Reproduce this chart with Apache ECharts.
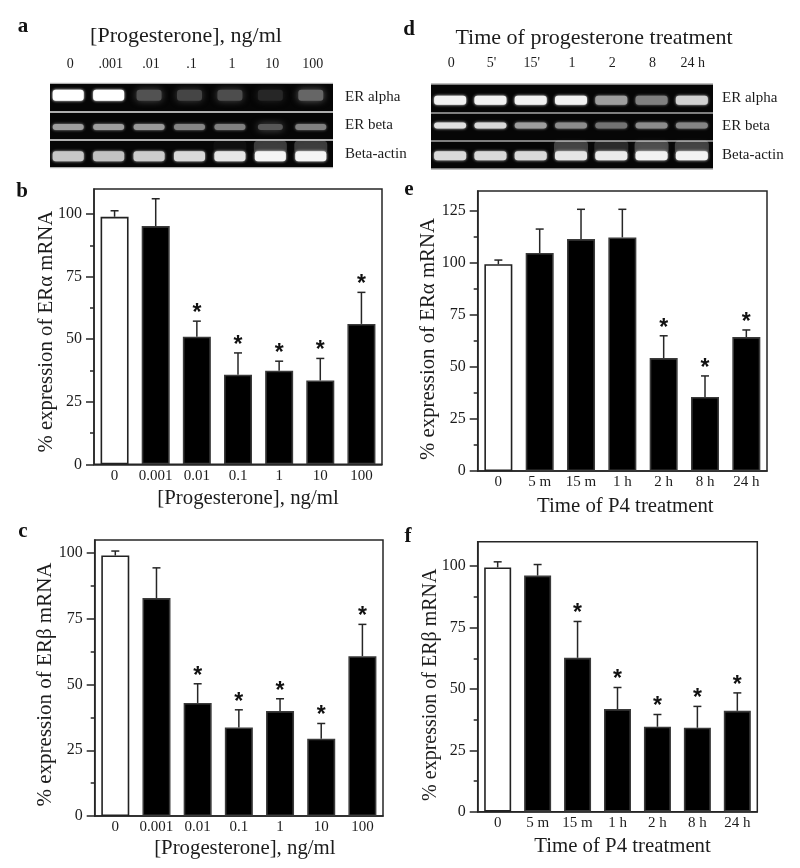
<!DOCTYPE html>
<html><head><meta charset="utf-8">
<style>html,body{margin:0;padding:0;background:#fff}#c{width:800px;height:868px}</style>
<script src="https://cdn.jsdelivr.net/npm/echarts@6/dist/echarts.min.js"></script>
</head><body><div id="c"></div>
<script>
const doseLanes = ['0','.001','.01','.1','1','10','100'];
const timeLanes = ['0',"5'","15'",'1','2','8','24 h'];
const gelRows = ['ER alpha','ER beta','Beta-actin'];
const gelA = [[1,1,.32,.27,.3,.15,.4],[.62,.62,.6,.52,.5,.34,.5],[.78,.76,.8,.85,.9,.96,.96]];
const smearA = [0,0,0,0,.04,.2,.2];
const gelD = [[.95,.95,.95,.95,.62,.5,.82],[.88,.85,.62,.55,.45,.55,.52],[.85,.85,.85,.9,.92,.95,.95]];
const smearD = [0,0,0,.22,.14,.25,.22];

const doseLabels = ['0','0.001','0.01','0.1','1','10','100'];
const timeLabels = ['0','5 m','15 m','1 h','2 h','8 h','24 h'];
const majorTicks = [0,25,50,75,100];
const majorTicksE = [0,25,50,75,100,125];
const minorTicks = [12.5,37.5,62.5,87.5];
const minorTicksE = [12.5,37.5,62.5,87.5,112.5];

const valuesB = [98.9,95.2,51,35.8,37.4,33.5,56.1];
const upperB = [101.3,106.1,57.2,44.5,41.2,42.3,68.7];
const starsB = [0,0,1,1,1,1,1];
const valuesC = [99.1,82.9,43,33.7,39.9,29.4,60.8];
const upperC = [100.8,94.4,50.3,40.4,44.6,35.2,72.9];
const starsC = [0,0,1,1,1,1,1];
const valuesE = [99.4,104.8,111.5,112.3,54.3,35.6,64.4];
const upperE = [101.4,116.3,125.8,125.8,65,45.7,67.8];
const starsE = [0,0,0,0,1,1,1];
const valuesF = [99.5,96.2,62.7,41.8,34.6,34.2,41.1];
const upperF = [101.8,100.7,77.5,50.6,39.6,42.9,48.4];
const starsF = [0,0,1,1,1,1,1];

const FONT = '"Liberation Serif","Times New Roman",serif';
const INK = '#1c1c1c';
const opt = {animation:false,backgroundColor:'#fff',title:[],grid:[],xAxis:[],yAxis:[],series:[]};

function addText(text,x,y,size,bold,align){
  opt.title.push({text,left:x,top:y,textAlign:align||'center',padding:0,
    textStyle:{fontFamily:FONT,fontSize:size,fontWeight:bold?'bold':'normal',color:bold?'#111':INK}});
}

function addGel(box,lanes,values,smear,cfg){
  const g=opt.grid.length;
  opt.grid.push({left:box.l,top:box.t,width:box.w,height:box.h,show:true,backgroundColor:'#060606',borderWidth:0});
  opt.xAxis.push({type:'category',gridIndex:g,position:'top',data:lanes,axisLine:{show:false},axisTick:{show:false},
    axisLabel:{fontFamily:FONT,fontSize:14,color:INK,margin:cfg.topMargin,interval:0}});
  opt.yAxis.push({type:'category',gridIndex:g,position:'right',inverse:true,data:gelRows,axisLine:{show:false},axisTick:{show:false},
    splitLine:{show:true,interval:0,lineStyle:{color:cfg.divider,width:1.5}},
    axisLabel:{fontFamily:FONT,fontSize:15,color:INK,margin:cfg.rowMargin,interval:0}});
  const data=[];
  values.forEach((row,r)=>row.forEach((v,i)=>data.push([i,r,v,r===2?smear[i]:0])));
  opt.series.push({type:'custom',xAxisIndex:g,yAxisIndex:g,clip:true,silent:true,encode:{x:0,y:1},data,
    renderItem(p,api){
      const r=api.value(1),v=api.value(2),sm=api.value(3);
      const c=api.coord([api.value(0),r]);
      const cx=c[0]+cfg.dx,cy=c[1]+cfg.dy[r];
      const h=cfg.thick[r],w=(v<.45?27:cfg.width);
      const gr=Math.round(255*Math.min(1,v));
      const col=`rgb(${gr},${gr},${gr})`;
      const kids=[];
      if(sm>0){
        kids.push({type:'rect',shape:{x:cx-w/2,y:cy-h/2-10,width:w,height:13,r:4},
          style:{fill:`rgba(255,255,255,${sm})`,shadowBlur:6,shadowColor:`rgba(255,255,255,${sm})`}});
      }
      kids.push({type:'rect',shape:{x:cx-w/2+1,y:cy-h/2+.5,width:w-2,height:h-1,r:3},
        style:{fill:col,shadowBlur:v<.45?7:3,shadowColor:col}});
      return {type:'group',children:kids};
    }});
}

function addBars(box,cfg){
  const g=opt.grid.length,axisBase=opt.yAxis.length;
  opt.grid.push({left:box.l,top:box.t,width:box.w,height:box.h,show:true,backgroundColor:'transparent',borderColor:'#262626',borderWidth:1.5});
  opt.xAxis.push({type:'category',gridIndex:g,data:cfg.labels,
    name:cfg.xName,nameLocation:'middle',nameGap:cfg.xGap,nameMoveOverlap:false,
    nameTextStyle:{fontFamily:FONT,fontSize:20.8,color:INK,padding:[0,0,0,cfg.xShift]},
    axisLine:{show:true,lineStyle:{color:'#262626',width:1.5}},axisTick:{show:false},
    axisLabel:{fontFamily:FONT,fontSize:15,color:INK,margin:4,interval:0}});
  opt.yAxis.push({type:'value',gridIndex:g,min:0,max:cfg.max,interval:25,
    name:cfg.yName,nameLocation:'middle',nameGap:cfg.yGap,nameRotate:90,nameMoveOverlap:false,
    nameTextStyle:{fontFamily:FONT,fontSize:cfg.yFont,color:INK,padding:[0,cfg.yShift,0,0]},
    splitLine:{show:false},axisLine:{show:true,lineStyle:{color:'#262626',width:1.5}},
    axisTick:{show:true,length:8,customValues:cfg.major,lineStyle:{color:'#262626',width:1.5}},
    axisLabel:{fontFamily:FONT,fontSize:16,color:INK,margin:12,customValues:cfg.major}});
  opt.yAxis.push({type:'value',gridIndex:g,min:0,max:cfg.max,interval:25,position:'left',
    splitLine:{show:false},axisLine:{show:false},axisLabel:{show:false},
    axisTick:{show:true,length:4,customValues:cfg.minor,lineStyle:{color:'#262626',width:1.5}}});
  opt.series.push({type:'bar',xAxisIndex:g,yAxisIndex:axisBase,barWidth:cfg.barWidth,silent:true,
    data:cfg.values.map((v,i)=>({value:v,itemStyle:i===0?{color:'#fff',borderColor:'#222',borderWidth:1.6}:{color:'#000',borderColor:'#3a3a3a',borderWidth:1.6}}))});
  opt.series.push({type:'custom',xAxisIndex:g,yAxisIndex:axisBase,clip:false,silent:true,z:3,encode:{x:0,y:[1,2]},
    data:cfg.values.map((v,i)=>[i,v,cfg.upper[i],cfg.stars[i]]),
    renderItem(p,api){
      const i=api.value(0);
      const a=api.coord([i,api.value(1)]),b=api.coord([i,api.value(2)]);
      const s={stroke:'#262626',lineWidth:1.5,fill:null};
      const kids=[
        {type:'line',shape:{x1:a[0],y1:a[1],x2:b[0],y2:b[1]},style:s},
        {type:'line',shape:{x1:b[0]-4,y1:b[1],x2:b[0]+4,y2:b[1]},style:s}
      ];
      if(api.value(3)){
        kids.push({type:'text',style:{text:'*',x:b[0],y:b[1]+4,align:'center',verticalAlign:'bottom',
          font:'bold 23px "Liberation Sans",Arial,sans-serif',fill:'#111'}});
      }
      return {type:'group',children:kids};
    }});
}

addGel({l:50,t:83,w:283,h:85},doseLanes,gelA,smearA,
  {topMargin:12,rowMargin:12,divider:'#e8e8e8',dx:-2,dy:[-2,1.5,2.5],thick:[12,7,11],width:33});
addGel({l:431,t:84,w:282,h:85},timeLanes,gelD,smearD,
  {topMargin:14,rowMargin:9,divider:'#a8a8a8',dx:-1,dy:[2,-1,1],thick:[10,7,10],width:34});

addBars({l:94,t:189,w:288,h:275.3},{labels:doseLabels,values:valuesB,upper:upperB,stars:starsB,max:110,major:majorTicks,minor:minorTicks,
  barWidth:28,xName:'[Progesterone], ng/ml',xGap:24,xShift:20,yName:'% expression of ER\u03B1 mRNA',yGap:37,yFont:20.8,yShift:10});
addBars({l:94.7,t:540,w:288.3,h:276},{labels:doseLabels,values:valuesC,upper:upperC,stars:starsC,max:105,major:majorTicks,minor:minorTicks,
  barWidth:28,xName:'[Progesterone], ng/ml',xGap:22,xShift:12,yName:'% expression of ER\u03B2 mRNA',yGap:39,yFont:21,yShift:13});
addBars({l:477.7,t:191,w:289.3,h:280},{labels:timeLabels,values:valuesE,upper:upperE,stars:starsE,max:134.6,major:majorTicksE,minor:minorTicksE,
  barWidth:28,xName:'Time of P4 treatment',xGap:25,xShift:6,yName:'% expression of ER\u03B1 mRNA',yGap:39,yFont:20.8,yShift:16});
addBars({l:477.7,t:541.7,w:279.6,h:270},{labels:timeLabels,values:valuesF,upper:upperF,stars:starsF,max:110,major:majorTicks,minor:minorTicks,
  barWidth:27,xName:'Time of P4 treatment',xGap:24,xShift:10,yName:'% expression of ER\u03B2 mRNA',yGap:37,yFont:20,yShift:16});

addText('[Progesterone], ng/ml',186,25,22);
addText('Time of progesterone treatment',594,27,22);
[['a',23,16],['b',22,181],['c',23,521],['d',409,19],['e',409,179],['f',408,526]].forEach(t=>addText(t[0],t[1],t[2],21,true));

echarts.init(document.getElementById('c'),null,{renderer:'canvas'}).setOption(opt);
</script></body></html>
